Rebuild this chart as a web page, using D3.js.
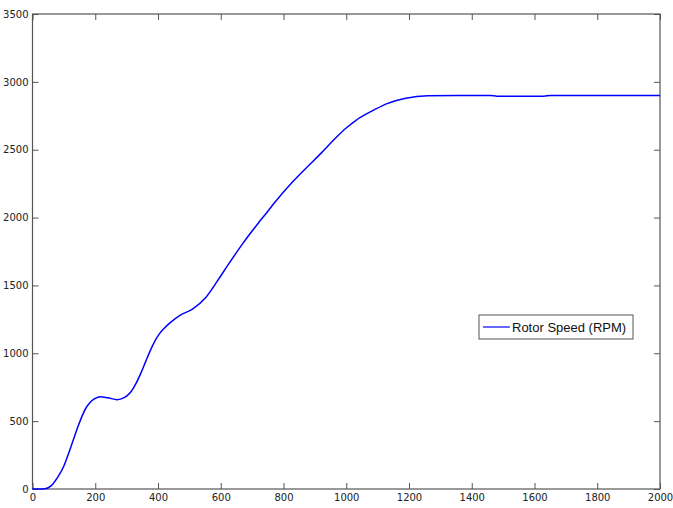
<!DOCTYPE html>
<html lang="en">
<head>
  <meta charset="UTF-8" />
  <title>Rotor Speed (RPM)</title>
  <script src="https://d3js.org/d3.v7.min.js"></script>
  <style>
    body { margin: 0; background: #fff; }
    .tick text { font-family: "DejaVu Sans", Verdana, sans-serif; font-size: 10px; fill: #222; }
    .tick line { stroke: #555; }
  </style>
</head>
<body>
  <svg width="673" height="508"></svg>

  <script>
    // sample times and rotor speed
    const time = [0, 20, 40, 60, 80, 100, 115, 130, 145, 160, 170, 180, 190, 200, 215, 240, 270, 285,
                  300, 315, 330, 345, 360, 375, 390, 405, 420, 440, 470, 510, 550, 590, 620, 670,
                  720, 745, 770, 830, 870, 920, 970, 1000, 1030, 1060, 1090, 1130, 1190, 1260, 1350,
                  1460, 1480, 1630, 1650, 1800, 2000];
    const speed = [0, 0, 2, 25, 85, 170, 262, 361, 460, 548, 595, 628, 652, 668, 680, 672, 658, 666,
                   684, 720, 778, 852, 935, 1018, 1090, 1145, 1185, 1228, 1280, 1325, 1405, 1535, 1640, 1808,
                   1960, 2032, 2105, 2265, 2360, 2475, 2595, 2660, 2715, 2758, 2795, 2840, 2880, 2898, 2900,
                   2900, 2894, 2894, 2900, 2900, 2900];
    const xTicks = [0, 200, 400, 600, 800, 1000, 1200, 1400, 1600, 1800, 2000];
    const yTicks = [0, 500, 1000, 1500, 2000, 2500, 3000, 3500];
    const seriesName = "Rotor Speed (RPM)";

    const data = time.map((t, i) => ({ t, v: speed[i] }));

    const margin = { top: 14, right: 13, bottom: 19, left: 32.5 },
          width = 673 - margin.left - margin.right,
          height = 508 - margin.top - margin.bottom;

    const svg = d3.select("svg")
      .append("g")
      .attr("transform", `translate(${margin.left},${margin.top})`);

    const x = d3.scaleLinear().domain([0, 2000]).range([0, width]);
    const y = d3.scaleLinear().domain([0, 3500]).range([height, 0]);
    const fmt = d3.format("d");

    // ticks point inward on all four sides, like MATLAB with box on
    svg.append("g")
      .attr("transform", `translate(0,${height})`)
      .call(d3.axisBottom(x).tickValues(xTicks).tickFormat(fmt).tickSize(-6).tickSizeOuter(0).tickPadding(5))
      .call(g => g.select(".domain").remove());

    svg.append("g")
      .call(d3.axisLeft(y).tickValues(yTicks).tickFormat(fmt).tickSize(-6).tickSizeOuter(0).tickPadding(4))
      .call(g => g.select(".domain").remove());

    svg.append("g")
      .call(d3.axisTop(x).tickValues(xTicks).tickSize(-6).tickSizeOuter(0).tickFormat(""))
      .call(g => g.select(".domain").remove());

    svg.append("g")
      .attr("transform", `translate(${width},0)`)
      .call(d3.axisRight(y).tickValues(yTicks).tickSize(-6).tickSizeOuter(0).tickFormat(""))
      .call(g => g.select(".domain").remove());

    // axes box
    svg.append("rect")
      .attr("width", width)
      .attr("height", height)
      .attr("fill", "none")
      .attr("stroke", "#555")
      .attr("stroke-width", 1.2);

    const line = d3.line()
      .x(d => x(d.t))
      .y(d => y(d.v))
      .curve(d3.curveMonotoneX);

    svg.append("path")
      .datum(data)
      .attr("fill", "none")
      .attr("stroke", "#0000ff")
      .attr("stroke-width", 1.5)
      .attr("d", line);

    // legend
    const legend = svg.append("g")
      .attr("transform", `translate(${479 - margin.left},${315 - margin.top})`);

    legend.append("rect")
      .attr("width", 154)
      .attr("height", 24)
      .attr("fill", "#fff")
      .attr("stroke", "#555");

    legend.append("line")
      .attr("x1", 4).attr("x2", 31)
      .attr("y1", 12).attr("y2", 12)
      .attr("stroke", "#0000ff")
      .attr("stroke-width", 1.2);

    legend.append("text")
      .attr("x", 33)
      .attr("y", 12)
      .attr("dy", "0.35em")
      .style("font-family", "'Liberation Sans', Arial, sans-serif")
      .style("font-size", "13px")
      .style("fill", "#111")
      .text(seriesName);
  </script>
</body>
</html>
